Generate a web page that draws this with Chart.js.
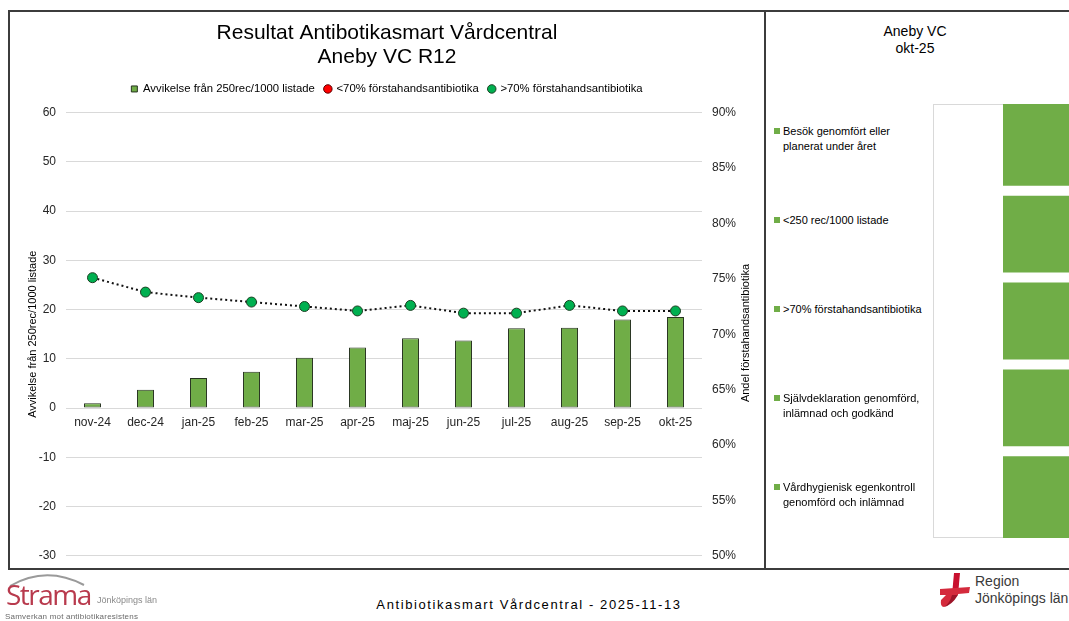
<!DOCTYPE html>
<html lang="sv">
<head>
<meta charset="utf-8">
<title>Resultat Antibotikasmart Vårdcentral</title>
<script src="https://cdn.jsdelivr.net/npm/chart.js@4.4.1/dist/chart.umd.min.js"></script>
<style>
  html, body { margin:0; padding:0; background:#fff; }
  body { width:1069px; height:621px; position:relative; overflow:hidden; font-family:"Liberation Sans", Arial, sans-serif; color:#000; }
  .frame { position:absolute; box-sizing:border-box; border:2px solid #3c3c3c; }
  #mainFrame { left:8px; top:10px; width:758px; height:560px; }
  #sideFrame { left:765px; top:10px; width:400px; height:560px; border-left-width:1.5px; }
  #mainChart { position:absolute; left:10px; top:11px; }
  #sideChart { position:absolute; left:923px; top:94px; }
  #y1Title { position:absolute; left:745px; top:333px; font-size:11px; color:#000; white-space:nowrap;
             transform:translate(-50%,-50%) rotate(-90deg); }
  #sideTitle { position:absolute; left:815px; top:23px; width:200px; text-align:center; font-size:14px; line-height:17px; }
  #sideLegend .item { position:absolute; left:774px; font-size:11px; line-height:15px; padding-left:9px; white-space:nowrap; }
  #sideLegend .item::before { content:""; position:absolute; left:0; top:4px; width:6px; height:6px; background:#70AD47; }
  #footerText { position:absolute; left:529px; top:597px; transform:translateX(-50%); font-size:13px; letter-spacing:1.6px; white-space:nowrap; }
  #strama { position:absolute; left:0; top:568px; width:170px; height:53px; }
  #strama .name { position:absolute; left:6px; top:7px; font-family:"Open Sans", sans-serif; font-size:28px; color:#b83a4d; letter-spacing:-1.5px; }
  #strama .lan { position:absolute; left:97px; top:27px; font-size:9px; color:#8a8a8a; }
  #strama .sub { position:absolute; left:5px; top:44px; font-size:8px; color:#6a6a6a; letter-spacing:0.2px; }
  #region { position:absolute; left:938px; top:570px; width:131px; height:40px; }
  #region .txt { position:absolute; left:37px; top:3px; font-size:14px; line-height:17px; color:#3a3a3a; }
</style>
</head>
<body>
<div id="mainFrame" class="frame"></div>
<div id="sideFrame" class="frame"></div>

<canvas id="mainChart" width="754" height="562"></canvas>
<div id="y1Title">Andel förstahandsantibiotika</div>

<div id="sideTitle"></div>
<canvas id="sideChart" width="300" height="454"></canvas>
<div id="sideLegend"></div>

<div id="strama">
  <svg width="90" height="20" style="position:absolute;left:6px;top:1px">
    <path d="M4 17 Q40 -4 78 16" fill="none" stroke="#9a9a9a" stroke-width="2"/>
  </svg>
  <div class="name">Strama</div>
  <div class="lan">Jönköpings län</div>
  <div class="sub">Samverkan mot antibiotikaresistens</div>
</div>
<div id="footerText">Antibiotikasmart Vårdcentral - 2025-11-13</div>
<div id="region">
  <svg width="34" height="36" style="position:absolute;left:0;top:3px">
    <path d="M16 0 L22 0 L20 22 L14 22 Z" fill="#c8102e"/>
    <path d="M2 16 L32 14 L31 20 L20 21 Q12 32 6 34 Q2 34 3 27 L8 22 L2 22 Z" fill="#d42a3c"/>
    <path d="M6 34 Q12 30 14 22 L20 22 Q14 32 6 34 Z" fill="#9d1428"/>
  </svg>
  <div class="txt">Region<br>Jönköpings län</div>
</div>

<script>
// data
const months = ['nov-24','dec-24','jan-25','feb-25','mar-25','apr-25','maj-25','jun-25','jul-25','aug-25','sep-25','okt-25'];
const deviation = [1.0, 3.7, 6.1, 7.4, 10.2, 12.3, 14.2, 13.7, 16.2, 16.3, 18.0, 18.5];
const below70 = [null, null, null, null, null, null, null, null, null, null, null, null];
const above70 = [75.1, 73.8, 73.3, 72.9, 72.5, 72.1, 72.6, 71.9, 71.9, 72.6, 72.1, 72.1];
const leftTicks = { min: -30, max: 60, step: 10 };
const rightTicks = { min: 50, max: 90, step: 5 };

const unitName = 'Aneby VC';
const period = 'okt-25';
const criteria = [
  ['Besök genomfört eller', 'planerat under året'],
  ['<250 rec/1000 listade'],
  ['>70% förstahandsantibiotika'],
  ['Självdeklaration genomförd,', 'inlämnad och godkänd'],
  ['Vårdhygienisk egenkontroll', 'genomförd och inlämnad']
];
const criteriaMet = [1, 1, 1, 1, 1];

const FONT = '"Liberation Sans", Arial, sans-serif';
const GREEN = '#70AD47';

// lite extra luft under legenden
const legendGap = {
  id: 'legendGap',
  beforeInit(chart) {
    const fit = chart.legend.fit;
    chart.legend.fit = function () { fit.call(this); this.height += 8; };
  }
};

// huvuddiagram
new Chart(document.getElementById('mainChart'), {
  data: {
    labels: months,
    datasets: [
      {
        type: 'bar',
        label: 'Avvikelse från 250rec/1000 listade',
        data: deviation,
        yAxisID: 'y',
        backgroundColor: GREEN,
        borderColor: '#26331f',
        borderWidth: 1,
        borderSkipped: false,
        pointStyle: 'rect',
        categoryPercentage: 1,
        barPercentage: 0.32
      },
      {
        type: 'line',
        label: '<70% förstahandsantibiotika',
        data: below70,
        yAxisID: 'y1',
        showLine: false,
        pointStyle: 'circle',
        pointRadius: 5,
        pointBackgroundColor: '#FF0000',
        pointBorderColor: '#5a0000',
        pointBorderWidth: 1
      },
      {
        type: 'line',
        label: '>70% förstahandsantibiotika',
        data: above70,
        yAxisID: 'y1',
        borderColor: '#111',
        borderWidth: 2,
        borderDash: [2, 3],
        tension: 0,
        fill: false,
        pointStyle: 'circle',
        pointRadius: 5,
        pointBackgroundColor: '#00B050',
        pointBorderColor: '#1c3f22',
        pointBorderWidth: 1
      }
    ]
  },
  options: {
    responsive: false,
    animation: false,
    devicePixelRatio: 1,
    layout: { padding: { left: 0, right: 0, top: 0, bottom: 0 } },
    plugins: {
      title: {
        display: true,
        text: ['Resultat Antibotikasmart Vårdcentral', 'Aneby VC R12'],
        color: '#000',
        font: { family: FONT, size: 21, weight: 'normal', lineHeight: 1.15 },
        padding: { top: 10, bottom: 4 }
      },
      legend: {
        position: 'top',
        labels: {
          usePointStyle: true,
          boxWidth: 6,
          boxHeight: 6,
          padding: 10,
          color: '#000',
          font: { family: FONT, size: 11.3 }
        }
      },
      tooltip: { enabled: false }
    },
    scales: {
      x: {
        type: 'category',
        position: { y: 0 },
        grid: { display: false },
        border: { display: false },
        ticks: { color: '#262626', font: { family: FONT, size: 12 }, padding: -1, maxRotation: 0 },
        afterFit: s => { s.height = 0; }
      },
      y: {
        position: 'left',
        min: leftTicks.min,
        max: leftTicks.max,
        ticks: { stepSize: leftTicks.step, color: '#262626', font: { family: FONT, size: 12 }, padding: 10 },
        grid: { color: '#d9d9d9', lineWidth: 1, drawTicks: false },
        border: { display: false },
        title: {
          display: true,
          text: 'Avvikelse från 250rec/1000 listade',
          color: '#000',
          font: { family: FONT, size: 11 },
          padding: { top: 16, bottom: 0 }
        },
        afterFit: s => { s.width = 56; }
      },
      y1: {
        position: 'right',
        min: rightTicks.min,
        max: rightTicks.max,
        ticks: { stepSize: rightTicks.step, color: '#262626', font: { family: FONT, size: 12 }, padding: 10, callback: v => v + '%' },
        grid: { display: false, drawTicks: false },
        border: { display: false },
        afterFit: s => { s.width = 62; }
      }
    }
  },
  plugins: [legendGap]
});

// sidopanel
document.getElementById('sideTitle').innerHTML = unitName + '<br>' + period;
const legendBox = document.getElementById('sideLegend');
criteria.forEach((lines, i) => {
  const d = document.createElement('div');
  d.className = 'item';
  d.style.top = (124 + i * 89) + 'px';
  d.innerHTML = lines.join('<br>');
  legendBox.appendChild(d);
});

const plotBorder = {
  id: 'plotBorder',
  beforeDatasetsDraw(chart) {
    const a = chart.chartArea, c = chart.ctx;
    c.save();
    c.strokeStyle = '#d9d9d9';
    c.lineWidth = 1;
    c.strokeRect(a.left + 0.5, a.top + 0.5, a.right - a.left, a.bottom - a.top - 1);
    c.restore();
  }
};

// stapel 0 = nederst, så vänd ordningen
const n = criteria.length;
const sideSets = criteria.map((lines, i) => ({
  label: lines.join(' '),
  data: [criteriaMet[i]],
  backgroundColor: GREEN,
  borderColor: '#fff',
  borderSkipped: false,
  borderWidth: { top: i === 0 ? 0 : 5, bottom: i === n - 1 ? 0 : 5, left: 0, right: 0 }
})).reverse();

new Chart(document.getElementById('sideChart'), {
  type: 'bar',
  data: { labels: [period], datasets: sideSets },
  options: {
    responsive: false,
    animation: false,
    devicePixelRatio: 1,
    layout: { padding: 10 },
    plugins: { legend: { display: false }, tooltip: { enabled: false } },
    datasets: { bar: { categoryPercentage: 1, barPercentage: 0.5 } },
    scales: {
      x: { display: false, stacked: true },
      y: { display: false, stacked: true, min: 0, max: criteriaMet.length }
    }
  },
  plugins: [plotBorder]
});
</script>
</body>
</html>
